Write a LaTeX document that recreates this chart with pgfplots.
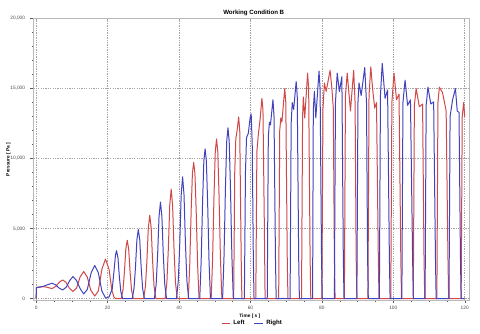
\documentclass[border=0pt]{standalone}
\usepackage{pgfplots}
\pgfplotsset{compat=1.18}
\usepackage{fontspec}
\setmainfont{Liberation Sans}
\definecolor{cred}{RGB}{208,72,72}
\definecolor{cblue}{RGB}{66,66,188}
\definecolor{gridc}{RGB}{165,165,165}
\begin{document}
\begin{tikzpicture}
\begin{axis}[
  name=ax,
  scale only axis,
  width=326.8pt, height=211.2pt,
  xmin=-0.8, xmax=121.2, ymin=-100, ymax=20000,
  xtick={0,20,40,60,80,100,120},
  ytick={0,5000,10000,15000,20000},
  minor x tick num=3, minor y tick num=4,
  tick align=outside, xtick pos=left, ytick pos=left,
  major tick length=2.2pt, minor tick length=1.3pt,
  every tick/.style={gray!70!black, line width=0.3pt},
  scaled y ticks=false,
  /pgf/number format/.cd, 1000 sep={,}, assume math mode=true,
  /pgfplots/.cd,
  tick label style={font=\fontsize{3.6}{4}\selectfont, text=gray!60!black},
  xticklabel style={yshift=1.2pt},
  yticklabel style={xshift=-0.5pt},
  grid=major,
  major grid style={gridc, line width=0.35pt, dash pattern=on 1pt off 0.8pt},
  axis line style={gray!55, line width=0.5pt},
  xlabel={\bfseries Time [ s ]},
  xlabel style={font=\fontsize{3.6}{4}\selectfont, at={(axis description cs:0.497,-0.057)}, anchor=center, inner sep=0pt},
  ylabel={\bfseries Pressure [ Pa ]},
  ylabel style={font=\fontsize{3.6}{4}\selectfont, at={(axis description cs:-0.057,0.5)}, anchor=center, inner sep=0pt},
  legend columns=2,
  legend style={draw=none, fill=none, font=\fontsize{4.6}{5}\selectfont\bfseries, at={(axis description cs:0.504,-0.082)}, anchor=center, inner sep=0pt, /tikz/every even column/.append style={column sep=5pt}},
  legend image code/.code={\draw[#1, line width=0.7pt] (0pt,0pt) -- (6.5pt,0pt);},
  every axis plot/.append style={line width=0.75pt, line join=round},
]
\addplot[cred] coordinates {
(0,0)(0.05,780)(1,820)(2,860)(3,820)(4.4,720)(5.5,880)(6.5,1180)(7.4,1340)(8.3,1180)(9.3,750)(10.3,520)(11.3,750)(12.3,1550)(13.3,1940)(14.3,1550)(15.3,600)(16.4,190)(17.4,550)(18.4,2100)(19.4,2830)(20.4,2100)(21.2,600)(21.8,100)(22.3,0)
(23.8,0)(24.3,625)(24.7,1880)(25.1,3540)(25.5,4170)(25.9,3540)(26.3,1880)(26.7,625)(27.2,0)
(30.1,0)(30.6,890)(31.0,2680)(31.4,5060)(31.8,5950)(32.2,5060)(32.6,2680)(33.0,890)(33.5,0)
(36.1,0)(36.6,1170)(37.0,3520)(37.4,6650)(37.8,7820)(38.2,6650)(38.6,3520)(39.0,1170)(39.5,0)
(42.6,0)(43.0,2430)(43.4,6320)(43.75,8950)(44.1,9730)(44.45,8950)(44.8,6320)(45.2,2430)(45.6,0)
(49.0,0)(49.4,2850)(49.8,7410)(50.15,10490)(50.5,11400)(50.85,10490)(51.2,7410)(51.6,2850)(52.0,0)
(55.3,0)(55.6,9000)(55.9,11400)(56.3,12100)(56.7,12970)(57.0,12000)(57.4,3000)(57.6,0)
(61.5,0)(61.8,10500)(62.2,11700)(62.7,12800)(63.2,14300)(63.5,13500)(63.9,5000)(64.1,0)
(67.9,0)(68.2,12000)(68.5,12900)(68.8,12600)(69.6,15000)(69.9,14000)(70.3,3000)(70.5,0)
(74.3,0)(74.6,13000)(74.8,14400)(75.2,12900)(76.0,16100)(76.3,15000)(76.7,3000)(76.9,0)
(80.0,0)(80.3,13500)(80.7,15400)(81.2,14800)(82.3,16300)(82.8,15000)(83.2,13600)(83.5,3000)(83.7,0)
(86.3,0)(86.6,14500)(87.1,16100)(88.0,13400)(88.9,16300)(89.3,14000)(89.6,3000)(89.8,0)
(92.9,0)(93.2,14500)(93.7,16550)(94.2,15000)(94.8,13600)(95.3,14000)(95.8,3000)(96.0,0)
(99.3,0)(99.6,14000)(100.2,16100)(100.9,14200)(101.6,14600)(102.1,3000)(102.3,0)
(105.6,0)(105.9,13800)(106.4,15000)(107.3,13700)(108.2,13900)(108.6,3000)(108.8,0)
(112.2,0)(112.5,14000)(112.9,15100)(113.8,14700)(114.8,13400)(115.3,3000)(115.5,0)
(119.0,0)(119.3,13000)(119.7,14000)(120,13000)
};
\addlegendentry{Left}
\addplot[cblue] coordinates {
(0,0)(0.05,800)(1,840)(2,880)(3,980)(4.4,1100)(5.4,1000)(6.4,760)(7.4,620)(8.4,820)(9.4,1300)(10.3,1580)(11.3,1300)(12.3,720)(13.3,340)(14.3,650)(15.4,1850)(16.4,2370)(17.4,1850)(18.4,550)(19.4,50)(20.4,120)(21.3,700)(21.8,2000)(22.2,3100)(22.5,3430)(22.9,2920)(23.3,1540)(23.7,510)(24.2,0)
(26.9,0)(27.4,740)(27.8,2220)(28.2,4200)(28.6,4940)(29.0,4200)(29.4,2220)(29.8,740)(30.3,0)
(33.1,0)(33.6,1040)(34.0,3100)(34.4,5870)(34.8,6900)(35.2,5870)(35.6,3100)(36.0,1040)(36.5,0)
(39.3,0)(39.8,1300)(40.2,3900)(40.6,7400)(41.0,8700)(41.4,7400)(41.8,3900)(42.2,1300)(42.7,0)
(45.8,0)(46.2,2680)(46.6,6960)(46.95,9840)(47.3,10700)(47.65,9840)(48.0,6960)(48.4,2680)(48.8,0)
(52.2,0)(52.6,3050)(53.0,7930)(53.35,11220)(53.7,12200)(54.05,11220)(54.4,7930)(54.8,3050)(55.2,0)
(58.3,0)(58.6,9000)(58.9,11500)(59.4,11800)(59.9,12900)(60.2,13200)(60.5,11000)(60.8,3000)(61.0,0)
(64.7,0)(65.0,11500)(65.3,12600)(65.6,12400)(66.3,14200)(66.6,13000)(67.0,3000)(67.2,0)
(71.1,0)(71.4,12500)(71.7,14000)(72.1,13500)(72.8,15500)(73.1,14500)(73.5,3000)(73.7,0)
(77.4,0)(77.6,13500)(77.9,14800)(78.3,12900)(79.2,16250)(79.5,15000)(79.9,3000)(80.1,0)
(83.5,0)(83.8,14000)(84.3,16100)(84.9,14800)(85.6,15850)(86.0,3000)(86.2,0)
(89.8,0)(90.1,14000)(90.4,15400)(91.0,14500)(92.0,16500)(92.5,14000)(92.8,3000)(93.0,0)
(96.1,0)(96.4,14500)(96.9,16800)(97.7,14300)(98.4,14900)(98.9,3000)(99.1,0)
(102.4,0)(102.7,14000)(103.3,15600)(104.0,13800)(104.8,14200)(105.4,3000)(105.6,0)
(108.9,0)(109.2,13800)(109.7,15100)(110.5,13900)(111.3,14050)(111.8,3000)(112.0,0)
(115.6,0)(115.9,13000)(116.6,14200)(117.4,15000)(117.9,13400)(118.4,13300)(118.8,3000)(119.0,0)
(120,0)
};
\addlegendentry{Right}
\end{axis}
\node[font=\fontsize{4.6}{5}\selectfont\bfseries, inner sep=0pt, anchor=center] at ([xshift=1.9pt,yshift=4.5pt]ax.north) {Working Condition B};
\path[use as bounding box] ([xshift=-25pt,yshift=-24.7pt]ax.south west) rectangle ([xshift=8.25pt,yshift=13.9pt]ax.north east);
\end{tikzpicture}
\end{document}
